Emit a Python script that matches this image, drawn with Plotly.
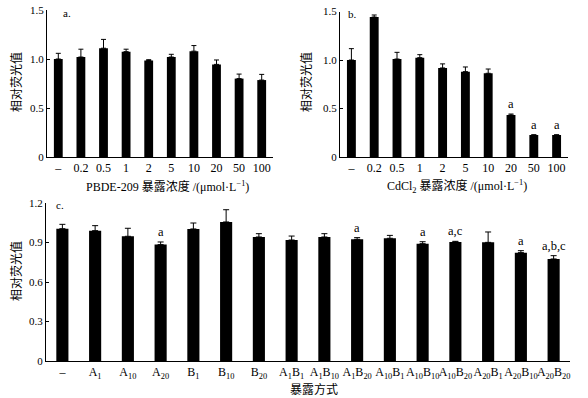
import plotly.graph_objects as go

# ---- data ----
conc_labels = ["–", "0.2", "0.5", "1", "2", "5", "10", "20", "50", "100"]
pbde_vals = [1.00, 1.02, 1.11, 1.075, 0.985, 1.02, 1.08, 0.945, 0.80, 0.785]
pbde_errs = [0.058, 0.08, 0.09, 0.025, 0.008, 0.028, 0.057, 0.045, 0.046, 0.058]
pbde_sig = ["", "", "", "", "", "", "", "", "", ""]

cd_vals = [1.00, 1.443, 1.01, 1.024, 0.918, 0.88, 0.863, 0.433, 0.227, 0.227]
cd_errs = [0.117, 0.021, 0.069, 0.031, 0.042, 0.048, 0.044, 0.01, 0.002, 0.002]
cd_sig = ["", "", "", "", "", "", "", "a", "a", "a"]

combo_labels = ["–", "A<sub>1</sub>", "A<sub>10</sub>", "A<sub>20</sub>", "B<sub>1</sub>",
                "B<sub>10</sub>", "B<sub>20</sub>", "A<sub>1</sub>B<sub>1</sub>",
                "A<sub>1</sub>B<sub>10</sub>", "A<sub>1</sub>B<sub>20</sub>",
                "A<sub>10</sub>B<sub>1</sub>", "A<sub>10</sub>B<sub>10</sub>",
                "A<sub>10</sub>B<sub>20</sub>", "A<sub>20</sub>B<sub>1</sub>",
                "A<sub>20</sub>B<sub>10</sub>", "A<sub>20</sub>B<sub>20</sub>"]
combo_vals = [1.005, 0.99, 0.947, 0.884, 1.003, 1.056, 0.942, 0.919, 0.942, 0.924,
              0.932, 0.891, 0.904, 0.901, 0.823, 0.775]
combo_errs = [0.033, 0.038, 0.061, 0.02, 0.045, 0.093, 0.025, 0.03, 0.025, 0.013,
              0.022, 0.015, 0.005, 0.079, 0.015, 0.025]
combo_sig = ["", "", "", "a", "", "", "", "", "", "a", "", "a", "a,c", "", "a", "a,b,c"]

W, H = 588, 398
SERIF = "Liberation Serif, Times New Roman, Noto Sans CJK SC"
CJK = "Noto Sans CJK SC"

fig = go.Figure()

def add_panel(xa, ya, cats, vals, errs, width, cap):
    fig.add_trace(go.Bar(
        x=cats, y=vals, xaxis=xa, yaxis=ya, width=width,
        marker=dict(color="black", line=dict(width=0)),
        error_y=dict(type="data", symmetric=False, array=errs,
                     arrayminus=[0] * len(errs), color="black",
                     thickness=1, width=cap),
        hoverinfo="skip", showlegend=False))

add_panel("x", "y", conc_labels, pbde_vals, pbde_errs, 0.39, 2.5)
add_panel("x2", "y2", conc_labels, cd_vals, cd_errs, 0.39, 2.5)
add_panel("x3", "y3", combo_labels, combo_vals, combo_errs, 0.37, 3)

def px_x(p):
    return p / W

def px_y(p):
    return (H - p) / H

line_common = dict(showline=True, linecolor="black", linewidth=1, showgrid=False,
                   zeroline=False, automargin=False)
xfont = dict(family=SERIF, size=12, color="black")
yfont = dict(family=SERIF, size=11, color="black")

fig.update_layout(
    width=W, height=H, margin=dict(l=0, r=0, t=0, b=0, autoexpand=False),
    paper_bgcolor="white", plot_bgcolor="white", bargap=0.6,
    xaxis=dict(domain=[px_x(47), px_x(273)], anchor="y", type="category",
               range=[-0.5, 9.5], ticks="", tickangle=0, tickfont=xfont, **line_common),
    yaxis=dict(domain=[px_y(157), px_y(10)], anchor="x", range=[0, 1.5],
               tickvals=[0, 0.5, 1.0, 1.5], ticktext=["0", "0.5", "1.0", "1.5"],
               ticks="inside", ticklen=3, tickcolor="black", tickfont=yfont, **line_common),
    xaxis2=dict(domain=[px_x(340), px_x(568)], anchor="y2", type="category",
                range=[-0.5, 9.5], ticks="", tickangle=0, tickfont=xfont, **line_common),
    yaxis2=dict(domain=[px_y(157), px_y(11.5)], anchor="x2", range=[0, 1.5],
                tickvals=[0, 0.5, 1.0, 1.5], ticktext=["0", "0.5", "1.0", "1.5"],
                ticks="inside", ticklen=3, tickcolor="black", tickfont=yfont, **line_common),
    xaxis3=dict(domain=[px_x(46), px_x(570)], anchor="y3", type="category",
                range=[-0.5, 15.5], ticks="", tickangle=0, tickfont=xfont, **line_common),
    yaxis3=dict(domain=[px_y(361), px_y(203)], anchor="x3", range=[0, 1.2],
                tickvals=[0, 0.3, 0.6, 0.9, 1.2], ticktext=["0", "0.3", "0.6", "0.9", "1.2"],
                ticks="inside", ticklen=3, tickcolor="black", tickfont=yfont, **line_common),
)

ann = []
# significance letters (x given as category index)
for xa, ya, vals, errs, sig in [("x", "y", pbde_vals, pbde_errs, pbde_sig),
                                ("x2", "y2", cd_vals, cd_errs, cd_sig),
                                ("x3", "y3", combo_vals, combo_errs, combo_sig)]:
    for i, (v, e, s) in enumerate(zip(vals, errs, sig)):
        if s:
            ann.append(dict(x=i, y=v + e, xref=xa, yref=ya, text=s, showarrow=False,
                            yanchor="bottom", yshift=1,
                            font=dict(family=SERIF, size=12.5, color="black")))

# panel letters
for t, x, y in [("a.", 67, 13), ("b.", 353, 14), ("c.", 60, 205)]:
    ann.append(dict(x=px_x(x), y=px_y(y), xref="paper", yref="paper", text=t,
                    showarrow=False, xanchor="center", yanchor="middle",
                    font=dict(family=SERIF, size=11, color="black")))

# y titles
for x, y in [(15, 82), (305, 82), (15, 271)]:
    ann.append(dict(x=px_x(x), y=px_y(y), xref="paper", yref="paper", text="相对荧光值",
                    textangle=-90, showarrow=False, xanchor="center", yanchor="middle",
                    font=dict(family=CJK, size=12, color="black")))

# x titles
for t, x, y in [("PBDE-209 暴露浓度 /(μmol·L<sup>−1</sup>)", 167, 186),
                ("CdCl<sub>2</sub> 暴露浓度 /(μmol·L<sup>−1</sup>)", 457, 186),
                ("暴露方式", 314, 389)]:
    ann.append(dict(x=px_x(x), y=px_y(y), xref="paper", yref="paper", text=t,
                    showarrow=False, xanchor="center", yanchor="middle",
                    font=dict(family=SERIF, size=12, color="black")))

fig.update_layout(annotations=ann)
fig.write_html("out.html", config={"displayModeBar": False},
               post_script="document.body.style.margin='0';document.body.style.overflow='hidden';")
